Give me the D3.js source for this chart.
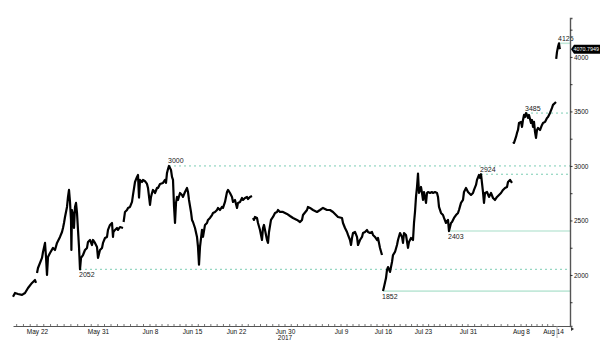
<!DOCTYPE html>
<html><head><meta charset="utf-8">
<script src="https://cdn.jsdelivr.net/npm/d3@7"></script>
<style>body{margin:0;background:#fff}svg{display:block}text{font-family:"Liberation Sans",Arial,sans-serif}</style>
</head><body><svg id="c" width="600" height="358"></svg>
<script>
// price segments: [bar index, price USD]
const segA = [[0,1800],[1,1835],[2.5,1826],[4.5,1817],[6,1835],[7.5,1881],[9.5,1927],[11,1954],[11.5,1927]];
const segB = [[12,2018],[12.5,2064],[14.5,2156],[15,2211],[16,2294],[16.5,2165],[17,2000],[17.5,2165],[18.5,2202],[20,2248],[21,2229],[22,2294],[23.5,2349],[24.5,2394],[25,2431],[25.5,2477],[26,2532],[27,2624],[27.5,2716],[28,2780],[28.5,2670],[29,2505],[29.2,2229],[29.5,2596],[30,2477],[30.3,2569],[30.5,2431],[31,2624],[31.5,2661],[32,2569],[32.5,2413],[33,2257],[33.3,2138],[33.5,2052],[34,2156],[35,2183],[36,2229],[37,2248],[37.5,2303],[38.5,2321],[39.5,2275],[40,2321],[41,2294],[42,2257],[42.5,2156],[43.5,2229],[44.5,2248],[45,2294],[46,2339],[47,2349],[47.5,2413],[48.5,2459],[49.5,2477],[50,2349],[50.2,2394],[51,2413],[52,2431],[52.5,2413],[53.5,2440],[55,2431]];
const segC = [[55.3,2486],[56,2578],[57,2596],[57.5,2615],[58.5,2624],[59.5,2670],[60,2734],[61,2853],[62,2899],[62.5,2917],[63,2710],[63.5,2872],[64.5,2853],[65,2872],[66,2860],[67,2835],[67.5,2798],[68.5,2642],[69,2716],[69.5,2752],[70,2780],[71,2752],[72,2798],[72.5,2798],[73.5,2835],[75,2844],[76,2872],[76.5,2844],[77,2936],[77.5,2972],[78,3000],[79,2963],[79.5,2899],[80,2872],[80.2,2780],[80.5,2633],[81,2477],[81.5,2661],[82,2716],[82.5,2688],[83.5,2752],[84.5,2734],[85,2716],[86,2761],[87,2798],[87.5,2761],[88,2688],[89,2578],[89.5,2505],[90,2486],[91,2431],[92,2349],[92.5,2257],[93,2095],[93.5,2257],[94.5,2413],[95,2349],[96,2459],[97,2477],[97.5,2505],[98.5,2523],[99.5,2550],[100,2569],[101,2578],[102,2596],[102.5,2615],[103.5,2596],[104.5,2624],[105,2615],[106,2670],[107,2761],[107.5,2780],[108.5,2752],[109.5,2716],[110,2670],[111,2688],[112,2615],[112.5,2661],[113.5,2670],[114.5,2706],[115,2688],[116,2706],[117,2716],[117.5,2697],[118.5,2716],[119.5,2725]];
const segD = [[120,2523],[120.5,2505],[121,2532],[122,2523],[122.5,2477],[123.5,2413],[124.5,2321],[125,2431],[125.5,2459],[126,2413],[127,2321],[127.5,2294],[128,2394],[129,2505],[130,2532],[131,2569],[132,2578],[132.5,2596],[133.5,2578],[135,2578],[137,2560],[138.5,2541],[140,2523],[142,2505],[143.5,2486],[144.5,2505],[145,2550],[147,2596],[147.5,2624],[148.5,2615],[150,2596],[152,2578],[153.5,2596],[155,2615],[157,2596],[158.5,2596],[160,2578],[161.5,2550],[162.5,2532],[164.5,2523],[165,2477],[166,2431],[167,2394],[167.5,2367],[168.5,2321],[169,2275],[169.5,2339],[170,2385],[171,2394],[172,2349],[172.5,2275],[173.5,2321],[174.5,2349],[175,2385],[176,2394],[177,2413],[177.5,2394],[178.5,2385],[179.5,2394],[180,2367],[181,2349],[182,2321],[182.5,2339],[183.5,2248],[184.5,2183]];
const segE = [[185,1852],[185.5,1890],[186.5,1972],[187,2046],[187.5,2073],[188.5,2028],[189.5,2119],[190,2183],[191,2211],[192,2275],[192.5,2321],[193.5,2385],[194.5,2349],[195,2294],[195.5,2385],[196.5,2367],[197.5,2248],[198,2303],[199,2339],[200,2321],[200.5,2477],[201,2578],[201.5,2716],[202,2807],[202.5,2930],[203,2752],[204,2807],[204.5,2752],[205,2688],[205.5,2761],[206.5,2661],[207,2752],[207.5,2761],[208.5,2752],[209.5,2761],[210,2752],[211,2761],[212,2752],[212.5,2716],[213,2624],[214,2569],[215,2550],[215.5,2523],[216.5,2477],[217.5,2505],[218,2403],[219,2477],[219.5,2486],[220.5,2523],[221.5,2550],[222.5,2569],[223,2596],[224,2661],[225,2688],[225.5,2761],[226.5,2798],[227.5,2761],[228,2752],[229,2734],[230,2752],[230.5,2780],[231.5,2826],[232,2872],[233,2917],[233.5,2890],[234,2924],[235,2761],[235.5,2661],[236,2752],[237,2761],[238,2716],[239,2752],[240,2706],[241,2688],[242,2716],[243,2734],[244,2752],[245,2780],[246,2798],[247,2807],[247.5,2853],[248.5,2872],[249.5,2844]];
const segF = [[250,3220],[250.5,3211],[251.5,3266],[252,3303],[252.5,3330],[253,3394],[254,3404],[254.5,3358],[255,3422],[255.5,3468],[256,3449],[256.5,3485],[257,3468],[257.5,3440],[258,3468],[259,3394],[259.5,3422],[260,3358],[260.5,3404],[261,3312],[261.5,3257],[262,3330],[262.5,3349],[263.5,3330],[264.5,3376],[265,3394],[266,3404],[267,3440],[267.5,3449],[268.5,3486],[269.5,3532],[270,3560],[271,3578],[271.5,3587]];
const segG = [[271.6,3982],[272,4046],[272.5,4092],[273,4125],[273.3,4083],[273.5,4071]];
const segments = [segA, segB, segC, segD, segE, segF, segG];

const xTickIdx = [12, 42.5, 68.5, 89.5, 111.5, 136, 164, 185, 205, 227.5, 254, 270];
const xTickLabels = ["May 22","May 31","Jun 8","Jun 15","Jun 22","Jun 30","Jul 9","Jul 16","Jul 23","Jul 31","Aug 8","Aug 14"];
const xTickDays = [9, 8, 7, 7, 8, 9, 7, 7, 8, 8, 6]; // days between labelled ticks
const yLabelTicks = [2000, 2500, 3000, 3500, 4000];
const yMinorTicks = [1750, 2250, 2750, 3250, 3750, 4250];

const levelValues = [4125, 3485, 3000, 2924, 2403, 2052, 1852];
const levelIdx    = [273, 256.5, 78, 234, 218, 33.5, 185];
const levelStyle  = ["solid","dashed","dashed","dashed","solid","dashed","solid"];
const levelLabelAt= ["above","above","above","above","below","below","below"];
const lastValue = "4070.7949";
const lastPrice = 4070.7949;
const currentIdx = 272;

const W = 600, H = 358;
const plot = {left: 13, right: 570, top: 18, bottom: 326};
const svg = d3.select("#c");

const x = d3.scaleLinear().domain([0, 278.5]).range([plot.left, plot.right]);
const y = d3.scaleLinear().domain([1532, 4357]).range([plot.bottom, plot.top]);

// level lines
const lv = svg.append("g");
levelValues.forEach((v, i) => {
  const solid = levelStyle[i] === "solid";
  lv.append("line")
    .attr("x1", x(levelIdx[i])).attr("x2", plot.right)
    .attr("y1", y(v)).attr("y2", y(v))
    .attr("stroke", solid ? "#c3e9da" : "#7ccdb4")
    .attr("stroke-width", solid ? 1.6 : 1)
    .attr("stroke-dasharray", solid ? null : "2,3");
});

// price line
const line = d3.line().x(d => x(d[0])).y(d => y(d[1]));
svg.append("g").selectAll("path").data(segments).join("path")
  .attr("d", line)
  .attr("fill", "none").attr("stroke", "#000")
  .attr("stroke-width", 2.2).attr("stroke-linejoin", "round");

// level labels
levelValues.forEach((v, i) => {
  svg.append("text")
    .attr("x", x(levelIdx[i]) - 1)
    .attr("y", levelLabelAt[i] === "above" ? y(v) - 2.5 : y(v) + 7.5)
    .attr("font-size", 7).attr("fill", "#222")
    .text(v);
});

// bottom axis
const xa = svg.append("g").attr("transform", `translate(0,${plot.bottom})`)
  .call(d3.axisBottom(x).tickValues(xTickIdx).tickSize(0).tickPadding(3)
    .tickFormat((d, i) => xTickLabels[i]));
xa.select(".domain").attr("stroke", "#555").attr("stroke-width", 1);
xa.selectAll("text").attr("font-size", 6.5).attr("fill", "#111").attr("font-family", "Liberation Sans, Arial, sans-serif");
// year under Jun 30
xa.append("text").attr("x", x(xTickIdx[5])).attr("y", 13.5).attr("text-anchor", "middle")
  .attr("font-size", 6.5).attr("fill", "#111").text("2017");
// minor day ticks
const minor = [];
xTickIdx.forEach((t, i) => {
  if (i < xTickDays.length) {
    const step = (xTickIdx[i + 1] - t) / xTickDays[i];
    for (let k = 0; k < xTickDays[i]; k++) minor.push(t + k * step);
  } else minor.push(t);
});
const s0 = (xTickIdx[1] - xTickIdx[0]) / xTickDays[0];
for (let t = xTickIdx[0] - s0; t > 0; t -= s0) minor.push(t);
svg.append("g").selectAll("line").data(minor).join("line")
  .attr("x1", d => x(d)).attr("x2", d => x(d))
  .attr("y1", plot.bottom - 2).attr("y2", plot.bottom)
  .attr("stroke", "#555").attr("stroke-width", 0.8);

// current date marker
svg.append("line").attr("x1", x(currentIdx)).attr("x2", x(currentIdx))
  .attr("y1", plot.bottom).attr("y2", plot.bottom + 12)
  .attr("stroke", "#999").attr("stroke-width", 0.8);
svg.append("path").attr("d", `M${plot.right + 1},${plot.bottom + 1} l3,2 l-3,2 z`).attr("fill", "#333");

// right axis
const ya = svg.append("g").attr("transform", `translate(${plot.right},0)`)
  .call(d3.axisRight(y).tickValues(yLabelTicks.concat(yMinorTicks)).tickSize(2.5).tickPadding(1.5)
    .tickFormat(d => yLabelTicks.includes(d) ? d : ""));
ya.select(".domain").attr("stroke", "#555").attr("stroke-width", 1.4);
ya.selectAll(".tick line").attr("stroke", "#333");
ya.selectAll("text").attr("font-size", 6.5).attr("fill", "#111").attr("font-family", "Liberation Sans, Arial, sans-serif");

// last value tag
const ly = y(lastPrice);
svg.append("path")
  .attr("d", `M${plot.right + 1},${ly} L${plot.right + 4},${ly - 4.5} H${W} V${ly + 4.5} H${plot.right + 4} Z`)
  .attr("fill", "#000");
svg.append("text").attr("x", plot.right + 3.5).attr("y", ly + 2)
  .attr("font-size", 5.2).attr("fill", "#fff").attr("textLength", 25.5).attr("lengthAdjust", "spacingAndGlyphs")
  .text(lastValue);
</script></body></html>
